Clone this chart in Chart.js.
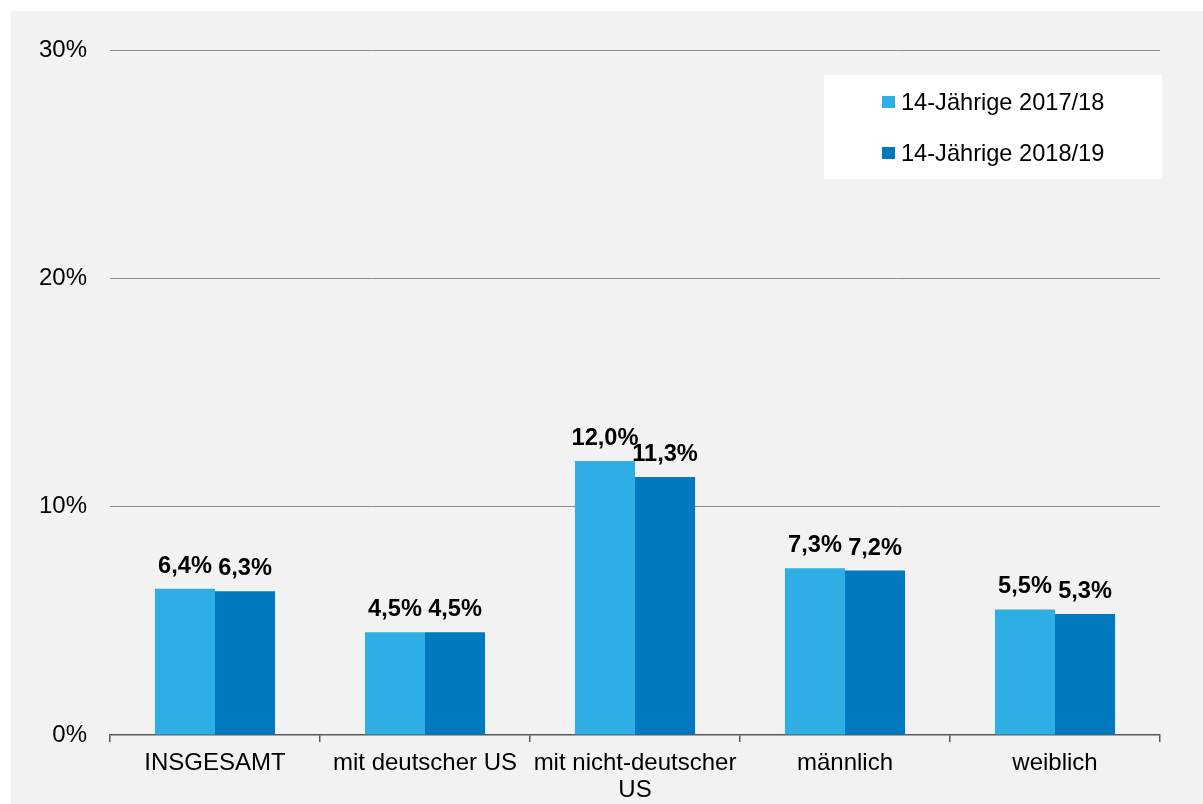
<!DOCTYPE html>
<html>
<head>
<meta charset="utf-8">
<script src="https://cdn.jsdelivr.net/npm/chart.js@4"></script>
<style>
  html, body { margin: 0; padding: 0; background: #ffffff; }
  #wrap { width: 1203px; height: 804px; position: relative; }
</style>
</head>
<body>
<div id="wrap"><canvas id="c" width="1203" height="804"></canvas></div>
<script>
const categories = ["INSGESAMT", "mit deutscher US", ["mit nicht-deutscher", "US"], "männlich", "weiblich"];
const seriesNames = ["14-Jährige 2017/18", "14-Jährige 2018/19"];
const values2017 = [6.4, 4.5, 12.0, 7.3, 5.5];
const values2018 = [6.3, 4.5, 11.3, 7.2, 5.3];
const colors = ["#2EAEE5", "#0079BE"];
const yTicks = [0, 10, 20, 30];

const FONT = '"Liberation Sans", Arial, sans-serif';

const bgPlugin = {
  id: 'bg',
  beforeDraw(chart) {
    const ctx = chart.ctx;
    ctx.save();
    ctx.fillStyle = '#ffffff';
    ctx.fillRect(0, 0, chart.width, chart.height);
    ctx.fillStyle = '#f2f2f2';
    ctx.fillRect(11, 11, chart.width - 11, chart.height - 11);
    ctx.restore();
  }
};

const labelPlugin = {
  id: 'vals',
  afterDatasetsDraw(chart) {
    const ctx = chart.ctx;
    ctx.save();
    ctx.font = 'bold 23.6px ' + FONT;
    ctx.fillStyle = '#000000';
    ctx.textAlign = 'center';
    ctx.textBaseline = 'alphabetic';
    chart.data.datasets.forEach((ds, i) => {
      const meta = chart.getDatasetMeta(i);
      meta.data.forEach((el, j) => {
        const txt = ds.data[j].toFixed(1).replace('.', ',') + '%';
        ctx.fillText(txt, el.x, el.y - 16);
      });
    });
    ctx.restore();
  }
};

const legendPlugin = {
  id: 'boxLegend',
  afterDraw(chart) {
    const ctx = chart.ctx;
    ctx.save();
    ctx.fillStyle = '#ffffff';
    ctx.fillRect(824, 75, 338, 104);
    ctx.font = '23.6px ' + FONT;
    ctx.textBaseline = 'middle';
    ctx.textAlign = 'left';
    chart.data.datasets.forEach((ds, i) => {
      const cy = 102 + i * 51;
      ctx.fillStyle = ds.backgroundColor;
      ctx.fillRect(882, cy - 6, 13, 12);
      ctx.fillStyle = '#000000';
      ctx.fillText(ds.label, 901, cy + 1);
    });
    ctx.restore();
  }
};

new Chart(document.getElementById('c'), {
  type: 'bar',
  data: {
    labels: categories,
    datasets: [
      { label: seriesNames[0], data: values2017, backgroundColor: colors[0] },
      { label: seriesNames[1], data: values2018, backgroundColor: colors[1] }
    ]
  },
  options: {
    responsive: false,
    animation: false,
    devicePixelRatio: 1,
    layout: { padding: { left: 0, top: 50, right: 43, bottom: 0 } },
    datasets: { bar: { barPercentage: 1.0, categoryPercentage: 0.572 } },
    plugins: {
      legend: { display: false },
      tooltip: { enabled: false },
      title: { display: false }
    },
    scales: {
      x: {
        grid: {
          offset: true,
          drawOnChartArea: false,
          drawTicks: true,
          tickLength: 7,
          color: '#595959',
          lineWidth: 1.5
        },
        border: { display: true, color: '#595959', width: 1.5 },
        ticks: {
          color: '#000000',
          font: { family: FONT, size: 24, lineHeight: 1.13 },
          padding: 8,
          maxRotation: 0,
          autoSkip: false
        },
        afterFit(scale) { scale.height = 69; }
      },
      y: {
        min: 0,
        max: 30,
        afterBuildTicks(scale) { scale.ticks = yTicks.map(v => ({ value: v })); },
        grid: {
          drawTicks: false,
          color: (c) => c.tick && c.tick.value === 0 ? 'rgba(0,0,0,0)' : '#8c8c8c',
          lineWidth: 1
        },
        border: { display: false },
        ticks: {
          color: '#000000',
          font: { family: FONT, size: 24 },
          padding: 23,
          callback: (v) => v + '%'
        },
        afterFit(scale) { scale.width = 110; }
      }
    }
  },
  plugins: [bgPlugin, labelPlugin, legendPlugin]
});
</script>
</body>
</html>
